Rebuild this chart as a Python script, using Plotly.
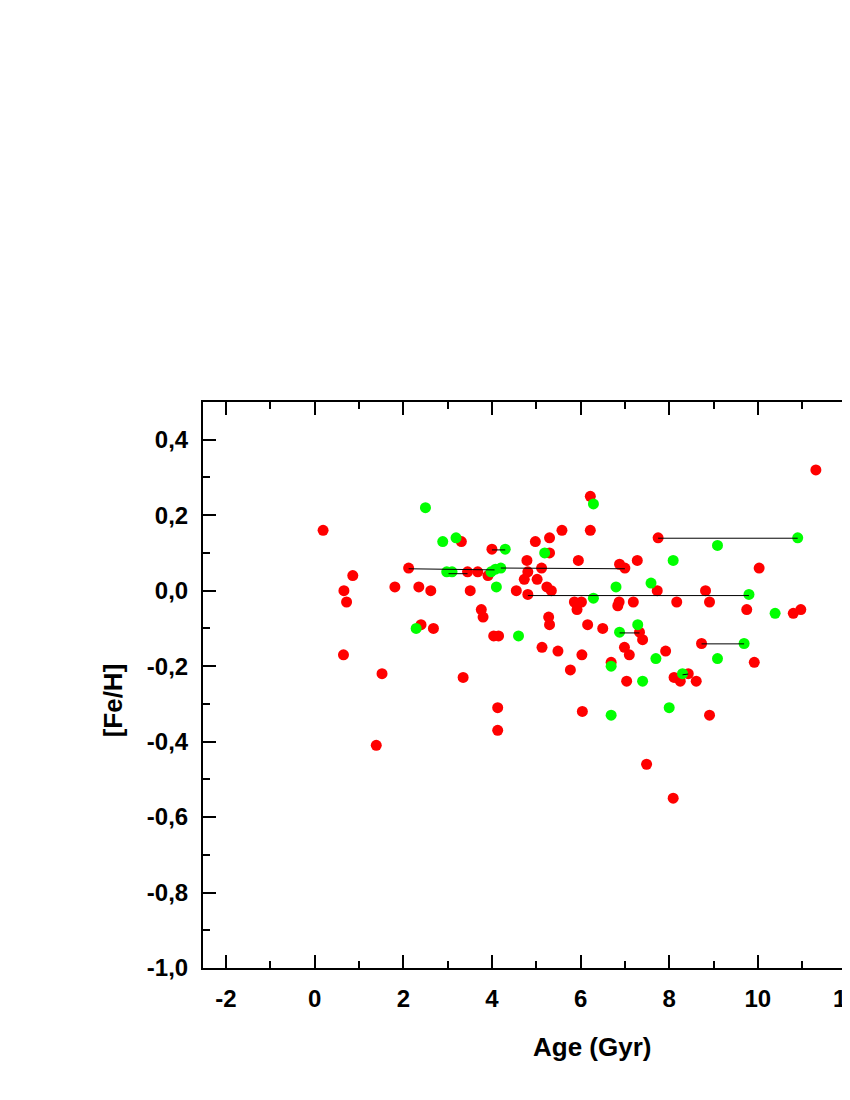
import plotly.graph_objects as go

# red stars: age (Gyr), [Fe/H]
red_age = [0.19, 0.66, 0.72, 0.86, 0.65, 1.39, 1.52, 1.81, 2.12, 2.35,
           2.40, 2.62, 2.68, 3.31, 3.35, 3.45, 3.51, 3.68, 3.76, 3.80,
           3.91, 4.00, 4.04, 4.15, 4.13, 4.13, 4.55, 4.73, 4.79, 4.81,
           4.81, 4.98, 5.02, 5.12, 5.13, 5.24, 5.28, 5.30, 5.30, 5.30,
           5.34, 5.49, 5.58, 5.77, 5.86, 5.92, 5.95, 6.02, 6.03, 6.04,
           6.16, 6.22, 6.22, 6.50, 6.69, 6.84, 6.87, 6.88, 6.99, 7.00,
           7.04, 7.10, 7.19, 7.28, 7.33, 7.40, 7.49, 7.73, 7.75, 7.92,
           8.09, 8.11, 8.17, 8.25, 8.43, 8.61, 8.73, 8.82, 8.91, 8.91,
           9.75, 9.92, 10.03, 10.80, 10.97, 11.31]
red_feh = [0.16, 0.00, -0.03, 0.04, -0.17, -0.41, -0.22, 0.01, 0.06, 0.01,
           -0.09, 0.00, -0.10, 0.13, -0.23, 0.05, 0.00, 0.05, -0.05, -0.07,
           0.04, 0.11, -0.12, -0.12, -0.31, -0.37, 0.00, 0.03, 0.08, 0.05,
           -0.01, 0.13, 0.03, 0.06, -0.15, 0.01, -0.07, -0.09, 0.14, 0.10,
           0.00, -0.16, 0.16, -0.21, -0.03, -0.05, 0.08, -0.03, -0.17, -0.32,
           -0.09, 0.25, 0.16, -0.10, -0.19, -0.04, -0.03, 0.07, -0.15, 0.06,
           -0.24, -0.17, -0.03, 0.08, -0.11, -0.13, -0.46, 0.00, 0.14, -0.16,
           -0.55, -0.23, -0.03, -0.24, -0.22, -0.24, -0.14, 0.00, -0.03, -0.33,
           -0.05, -0.19, 0.06, -0.06, -0.05, 0.32]

# green stars
green_age = [2.29, 2.50, 2.89, 2.98, 3.10, 3.19, 3.98, 4.08, 4.20, 4.10,
             4.30, 4.60, 5.19, 6.29, 6.29, 6.69, 6.69, 6.80, 6.88, 7.29,
             7.40, 7.59, 7.70, 8.00, 8.09, 8.30, 9.09, 9.09, 9.69, 9.80,
             10.39, 10.90]
green_feh = [-0.10, 0.22, 0.13, 0.05, 0.05, 0.14, 0.05, 0.057, 0.06, 0.01,
             0.11, -0.12, 0.10, 0.23, -0.02, -0.20, -0.33, 0.01, -0.11, -0.09,
             -0.24, 0.02, -0.18, -0.31, 0.08, -0.22, 0.12, -0.18, -0.14, -0.01,
             -0.06, 0.14]

# connecting segments between the two age estimates
link_age0 = [2.12, 3.02, 4.00, 4.20, 4.81, 6.88, 7.75, 8.73, 8.30]
link_age1 = [4.06, 3.45, 4.30, 7.00, 9.80, 7.33, 10.90, 9.69, 8.43]
link_feh0 = [0.058, 0.045, 0.108, 0.060, -0.013, -0.112, 0.139, -0.141, -0.223]
link_feh1 = [0.055, 0.045, 0.108, 0.058, -0.013, -0.112, 0.139, -0.141, -0.221]

x_ticks = [-2, 0, 2, 4, 6, 8, 10, 12]
x_labels = ['-2', '0', '2', '4', '6', '8', '10', '12']
y_ticks = [0.4, 0.2, 0.0, -0.2, -0.4, -0.6, -0.8, -1.0]
y_labels = ['0,4', '0,2', '0,0', '-0,2', '-0,4', '-0,6', '-0,8', '-1,0']

FONT = 'Arial, Liberation Sans, sans-serif'

link_x, link_y = [], []
for a0, a1, f0, f1 in zip(link_age0, link_age1, link_feh0, link_feh1):
    link_x += [a0, a1, None]
    link_y += [f0, f1, None]

fig = go.Figure()
fig.add_trace(go.Scatter(x=red_age, y=red_feh, mode='markers',
                         marker=dict(color='#ff0000', size=11, line=dict(width=0))))
fig.add_trace(go.Scatter(x=green_age, y=green_feh, mode='markers',
                         marker=dict(color='#00ff00', size=11, line=dict(width=0))))
fig.add_trace(go.Scatter(x=link_x, y=link_y, mode='lines',
                         line=dict(color='black', width=1)))

axis_common = dict(
    showgrid=False, zeroline=False, automargin=False,
    showline=True, linecolor='black', linewidth=2,
    ticks='inside', ticklen=13, tickwidth=2, tickcolor='black',
    tickfont=dict(family=FONT, size=24, color='black', weight='bold'),
    ticklabelstandoff=8, ticklabeloverflow='allow',
)

fig.update_xaxes(**axis_common, range=[-2.52, 12.08], mirror='ticks',
                 tickvals=x_ticks, ticktext=x_labels,
                 minor=dict(ticks='inside', ticklen=7, tickwidth=2,
                            tickcolor='black', dtick=1, tick0=-1))
fig.update_yaxes(**axis_common, range=[-1.0, 0.5],
                 tickvals=y_ticks, ticktext=y_labels,
                 minor=dict(ticks='inside', ticklen=7, tickwidth=2,
                            tickcolor='black', dtick=0.1, tick0=0.0))

fig.add_annotation(text='Age (Gyr)', xref='paper', yref='paper',
                   x=0.601, y=-0.14, xanchor='center', yanchor='middle',
                   showarrow=False,
                   font=dict(family=FONT, size=26, color='black', weight='bold'))
fig.add_annotation(text='[Fe/H]', xref='paper', yref='paper',
                   x=-0.139, y=0.473, xanchor='center', yanchor='middle',
                   textangle=-90, showarrow=False,
                   font=dict(family=FONT, size=26, color='black', weight='bold'))

# page body adds an 8px margin, so the figure is shifted back by that much
fig.update_layout(
    width=842, height=1075,
    margin=dict(l=195, r=0, t=394, b=115),
    paper_bgcolor='white', plot_bgcolor='white',
    showlegend=False,
)

fig.write_html("out.html")
